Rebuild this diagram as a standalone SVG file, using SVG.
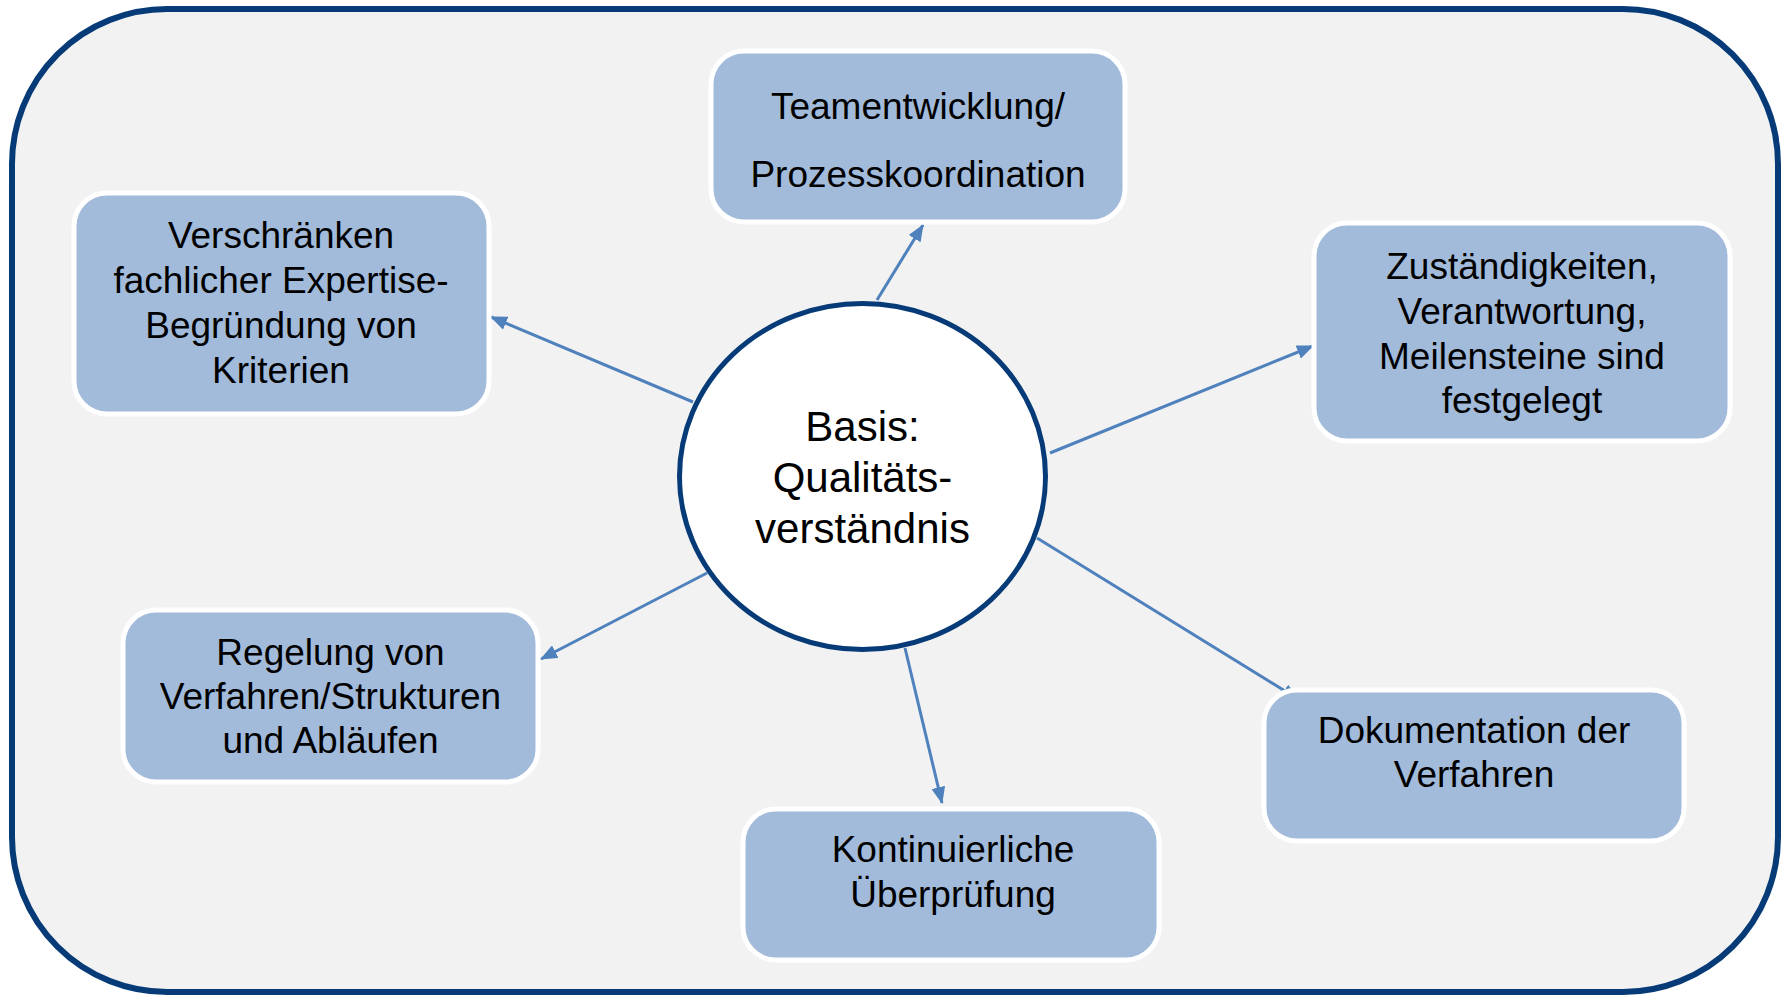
<svg xmlns="http://www.w3.org/2000/svg" width="1785" height="996" viewBox="0 0 1785 996">
  <defs>
    <marker id="arrow" markerUnits="userSpaceOnUse" markerWidth="17" markerHeight="14" refX="16" refY="7" orient="auto">
      <path d="M0,0 L17,7 L0,14 z" fill="#4f81bd"/>
    </marker>
    <style>
      .frame { fill: #f2f2f2; stroke: #063b78; stroke-width: 6; }
      .box { fill: #a2bbda; stroke: #ffffff; stroke-width: 5; }
      .hub { fill: #ffffff; stroke: #063b78; stroke-width: 5; }
      .conn { stroke: #4f81bd; stroke-width: 3; fill: none; marker-end: url(#arrow); }
      .t { font-family: "Liberation Sans", Arial, sans-serif; font-size: 37px; fill: #000000; text-anchor: middle; }
      .th { font-family: "Liberation Sans", Arial, sans-serif; font-size: 42px; fill: #000000; text-anchor: middle; }
    </style>
  </defs>

  <rect x="0" y="0" width="1785" height="996" fill="#ffffff"/>
  <rect class="frame" x="12" y="9" width="1766" height="983" rx="155" ry="155"/>

  <g id="connectors">
    <line class="conn" x1="877" y1="300" x2="923" y2="225"/>
    <line class="conn" x1="693" y1="402" x2="491" y2="317"/>
    <line class="conn" x1="1050" y1="453" x2="1313" y2="346"/>
    <line class="conn" x1="707" y1="573" x2="541" y2="659"/>
    <line class="conn" x1="905" y1="648" x2="942" y2="803"/>
    <line class="conn" x1="1037" y1="538" x2="1298" y2="699"/>
  </g>

  <g id="node-basis">
    <ellipse class="hub" cx="862.5" cy="476.5" rx="183" ry="173"/>
    <text class="th" x="862.5" y="441">Basis:</text>
    <text class="th" x="862.5" y="492">Qualitäts-</text>
    <text class="th" x="862.5" y="543">verständnis</text>
  </g>

  <g id="node-teamentwicklung">
    <rect class="box" x="711" y="51" width="414" height="171" rx="33" ry="33"/>
    <text class="t" x="918" y="119">Teamentwicklung/</text>
    <text class="t" x="918" y="187">Prozesskoordination</text>
  </g>

  <g id="node-verschraenken">
    <rect class="box" x="74" y="193" width="415" height="221" rx="33" ry="33"/>
    <text class="t" x="281" y="248">Verschränken</text>
    <text class="t" x="281" y="293">fachlicher Expertise-</text>
    <text class="t" x="281" y="338">Begründung von</text>
    <text class="t" x="281" y="383">Kriterien</text>
  </g>

  <g id="node-zustaendigkeiten">
    <rect class="box" x="1314" y="223" width="416" height="218" rx="33" ry="33"/>
    <text class="t" x="1522" y="279">Zuständigkeiten,</text>
    <text class="t" x="1522" y="324">Verantwortung,</text>
    <text class="t" x="1522" y="369">Meilensteine sind</text>
    <text class="t" x="1522" y="413">festgelegt</text>
  </g>

  <g id="node-regelung">
    <rect class="box" x="123" y="610" width="415" height="172" rx="33" ry="33"/>
    <text class="t" x="330.5" y="665">Regelung von</text>
    <text class="t" x="330.5" y="709">Verfahren/Strukturen</text>
    <text class="t" x="330.5" y="753">und Abläufen</text>
  </g>

  <g id="node-kontinuierlich">
    <rect class="box" x="743" y="809" width="416" height="151" rx="33" ry="33"/>
    <text class="t" x="953" y="862">Kontinuierliche</text>
    <text class="t" x="953" y="907">Überprüfung</text>
  </g>

  <g id="node-dokumentation">
    <rect class="box" x="1264" y="690" width="420" height="151" rx="33" ry="33"/>
    <text class="t" x="1474" y="743">Dokumentation der</text>
    <text class="t" x="1474" y="787">Verfahren</text>
  </g>
</svg>
